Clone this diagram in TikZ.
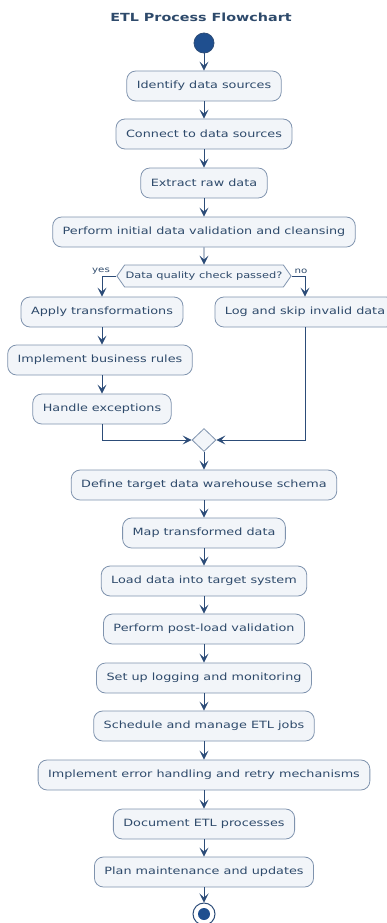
\documentclass[tikz,border=0pt]{standalone}
\usepackage{fontspec}
\setmainfont[FakeStretch=1.28]{DejaVu Sans}
\usetikzlibrary{shapes.geometric,shapes.symbols,arrows.meta,positioning}
\definecolor{boxfill}{HTML}{F2F5F9}
\definecolor{boxline}{HTML}{7F93AE}
\definecolor{txt}{HTML}{2E4A6B}
\definecolor{arr}{HTML}{2C4C78}
\definecolor{startc}{HTML}{1F4F8F}
\tikzset{
  x=1pt,y=-1pt,
  stepbox/.style={draw=boxline,fill=boxfill,rounded corners=9pt,line width=0.8pt,
    minimum height=30pt,inner xsep=10pt,text=txt,font=\fontsize{10}{12}\selectfont},
  flow/.style={draw=arr,line width=0.9pt,-{Stealth[length=9pt,width=9pt,inset=4pt]}},
  lab/.style={text=txt,font=\fontsize{8}{9}\selectfont,inner sep=1pt}
}
\begin{document}
\begin{tikzpicture}
\useasboundingbox (0,0) rectangle (387,923);
\clip (0,0) rectangle (387,923);
\node[text=txt,font=\bfseries\fontsize{11.2}{13}\selectfont] (title) at (201,17) {ETL Process Flowchart};
\node[circle,fill=startc,draw=arr,line width=0.8pt,minimum size=20pt,inner sep=0pt] (start) at (204,43) {};
\node[stepbox] (n1) at (204,86) {Identify data sources};
\node[stepbox] (n2) at (204,134) {Connect to data sources};
\node[stepbox] (n3) at (204,183) {Extract raw data};
\node[stepbox] (n4) at (204,232) {Perform initial data validation and cleansing};
\node[signal,signal to=west and east,signal pointer angle=110,draw=boxline,fill=boxfill,line width=0.8pt,
  minimum height=22pt,inner xsep=1pt,inner ysep=0pt,text=txt,font=\fontsize{8.9}{10}\selectfont] (dec) at (204,276) {Data quality check passed?};
\node[stepbox] (a1) at (102,312) {Apply transformations};
\node[stepbox] (l1) at (305,312) {Log and skip invalid data};
\node[stepbox] (a2) at (100,360) {Implement business rules};
\node[stepbox] (a3) at (102,409) {Handle exceptions};
\node[diamond,draw=boxline,fill=boxfill,line width=0.8pt,minimum width=24pt,minimum height=23pt,inner sep=0pt] (merge) at (204,440) {};
\node[stepbox] (n5) at (204,485) {Define target data warehouse schema};
\node[stepbox] (n6) at (204,533) {Map transformed data};
\node[stepbox] (n7) at (204,581) {Load data into target system};
\node[stepbox] (n8) at (204,629) {Perform post-load validation};
\node[stepbox] (n9) at (204,678) {Set up logging and monitoring};
\node[stepbox] (n10) at (204,726) {Schedule and manage ETL jobs};
\node[stepbox] (n11) at (204,775) {Implement error handling and retry mechanisms};
\node[stepbox] (n12) at (204,824) {Document ETL processes};
\node[stepbox] (n13) at (204,872) {Plan maintenance and updates};
\node[circle,draw=arr,line width=1pt,fill=white,minimum size=22pt,inner sep=0pt] (end) at (204,914) {};
\node[circle,fill=startc,minimum size=12pt,inner sep=0pt] (endin) at (end.center) {};

\draw[flow] (start) -- (n1);
\draw[flow] (n1) -- (n2);
\draw[flow] (n2) -- (n3);
\draw[flow] (n3) -- (n4);
\draw[flow] (n4) -- (dec);
\draw[flow] (dec.west) -| (a1.north);
\draw[flow] (dec.east) -| (l1.north);
\node[lab,anchor=south] (yes) at (101,275) {yes};
\node[lab,anchor=south] (no) at (301,275) {no};
\draw[flow] (a1) -- (a2.north -| a1);
\draw[flow] (a2.south -| a3) -- (a3);
\draw[flow] (a3.south) |- (merge.west);
\draw[flow] (l1.south) |- (merge.east);
\draw[flow] (merge) -- (n5);
\draw[flow] (n5) -- (n6);
\draw[flow] (n6) -- (n7);
\draw[flow] (n7) -- (n8);
\draw[flow] (n8) -- (n9);
\draw[flow] (n9) -- (n10);
\draw[flow] (n10) -- (n11);
\draw[flow] (n11) -- (n12);
\draw[flow] (n12) -- (n13);
\draw[flow] (n13) -- (end);
\end{tikzpicture}
\end{document}
